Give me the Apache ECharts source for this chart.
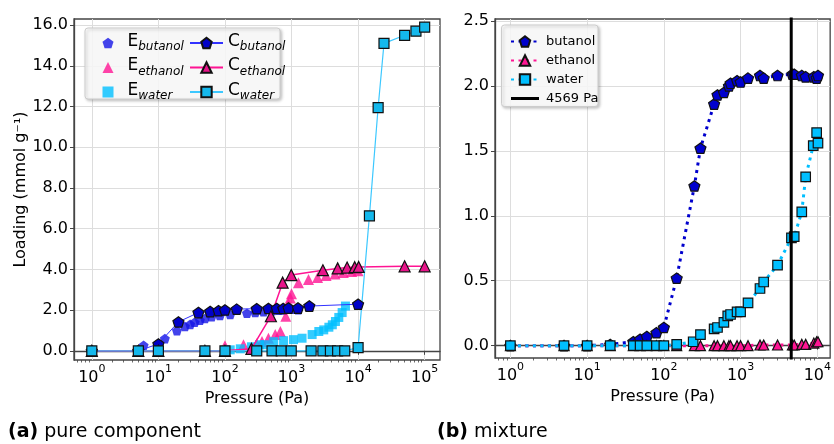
<!DOCTYPE html>
<html><head><meta charset="utf-8">
<script src="https://cdn.jsdelivr.net/npm/echarts@6/dist/echarts.min.js"></script>
<style>html,body{margin:0;padding:0;background:#fff}#c{width:834px;height:444px}</style>
</head><body><div id="c"></div>
<script>
// ---- (a) pure component: [pressure Pa, loading mmol/g]
const eButanol = [[6,0.27],[12.5,0.6],[19,0.99],[25,1.2],[30,1.3],[35,1.4],[42,1.5],[50,1.59],[63,1.67],[84,1.73],[120,1.78],[214,1.85],[285,1.88],[380,1.92],[510,1.97],[640,2.0],[760,2.01],[1020,2.04],[1260,2.02]];
const cButanol = [[1,0],[5,0],[10,0.34],[20,1.42],[40,1.88],[60,1.93],[80,1.97],[100,2.01],[150,2.05],[300,2.07],[450,2.08],[600,2.08],[750,2.08],[900,2.1],[1250,2.1],[1850,2.2],[10000,2.29]];
const eEthanol = [[100,0.25],[190,0.3],[300,0.35],[360,0.46],[450,0.62],[570,0.8],[680,0.95],[820,1.7],[900,2.3],[960,2.6],[1000,2.8],[1270,3.35],[1800,3.5],[2460,3.6],[3300,3.7],[4500,3.78],[6000,3.85],[8000,3.9],[10000,3.93]];
const cEthanol = [[1,0],[5,0],[10,0],[50,0],[100,0],[250,0.1],[490,1.7],[735,3.35],[990,3.72],[2960,3.96],[4930,4.05],[6840,4.09],[8900,4.11],[10200,4.12],[50000,4.15],[100000,4.15]];
const eWater = [[120,0.05],[170,0.1],[250,0.2],[330,0.3],[400,0.3],[540,0.45],[760,0.5],[1070,0.55],[1440,0.62],[2040,0.8],[2570,0.95],[3050,1.03],[3640,1.16],[4100,1.28],[4570,1.44],[5130,1.64],[5760,1.88],[6460,2.2]];
const cWater = [[1,0],[5,0],[10,0],[50,0],[100,0],[300,0],[510,0],[700,0],[990,0],[1970,0],[2960,0],[3840,0],[4930,0],[6300,0],[10000,0.16],[14800,6.63],[20000,11.95],[24500,15.1],[50000,15.5],[74000,15.7],[100000,15.9]];
// ---- (b) mixture
const mixButanol = [[1,0],[5,0],[10,0],[20,0.01],[40,0.03],[49,0.05],[60,0.07],[80,0.1],[100,0.14],[147,0.52],[250,1.23],[300,1.52],[452,1.86],[500,1.93],[606,1.95],[705,2.0],[740,2.02],[900,2.04],[1000,2.03],[1250,2.06],[1790,2.08],[2000,2.06],[3030,2.08],[4740,2.09],[5000,2.09],[6270,2.08],[7050,2.07],[9000,2.07],[9800,2.06],[10200,2.08]];
const mixEthanol = [[1,0],[5,0],[10,0],[20,0],[40,0],[49,0],[60,0],[80,0],[100,0],[147,0],[250,0],[300,0],[452,0],[500,0],[606,0],[705,0],[740,0],[900,0],[1000,0],[1250,0],[1790,0.005],[2000,0.005],[3030,0.005],[4740,0.005],[5000,0.005],[6270,0.01],[7050,0.01],[9000,0.02],[9800,0.03],[10200,0.03]];
const mixWater = [[1,0],[5,0],[10,0],[20,0],[40,0],[49,0],[60,0],[80,0],[100,0],[147,0.01],[241,0.03],[300,0.085],[452,0.13],[500,0.14],[606,0.18],[680,0.23],[740,0.24],[900,0.26],[1000,0.26],[1250,0.33],[1790,0.44],[2000,0.49],[3030,0.62],[4600,0.83],[5000,0.84],[6270,1.03],[7050,1.3],[8850,1.54],[9800,1.64],[10200,1.56]];
const markerPressure = 4569;
const markerLine = [[markerPressure,-1],[markerPressure,3]];
// ---- tick labels
const leftXTicks = [1,10,100,1000,10000,100000];
const rightXTicks = [1,10,100,1000,10000];
const leftYTicks = [0,2,4,6,8,10,12,14,16];
const rightYTicks = [0,0.5,1,1.5,2,2.5];
const minorMantissa = [2,3,4,5,6,7,8,9];
const minorDecades = [0.1,1,10,100,1000,10000,100000];

const FONT = 'DejaVu Sans';
const PENT = 'path://M0,-1L0.951,-0.309L0.588,0.809L-0.588,0.809L-0.951,-0.309Z';
function minorTicks(lo, hi){const out=[];minorDecades.forEach(d=>minorMantissa.forEach(m=>{const v=m*d;if(v>lo&&v<hi)out.push(v);}));return out;}
function logLabel(v){const e=Math.round(Math.log10(v));return '{b|10}{s|'+e+'}';}
const logRich={b:{fontFamily:FONT,fontSize:16,lineHeight:22,verticalAlign:'bottom',color:'#000'},s:{fontFamily:FONT,fontSize:11,lineHeight:12,verticalAlign:'top',color:'#000'}};
const AX='#444';
function majorX(gi,min,max,ticks){return {gridIndex:gi,type:'log',logBase:10,min:min,max:max,position:'bottom',
  name:'Pressure (Pa)',nameLocation:'middle',nameGap:21,nameTextStyle:{fontFamily:FONT,fontSize:16,color:'#000'},
  axisLine:{show:true,lineStyle:{color:AX,width:1.3}},
  axisTick:{show:true,inside:false,length:4,customValues:ticks,lineStyle:{color:AX,width:1}},
  axisLabel:{customValues:ticks,formatter:logLabel,rich:logRich,margin:4},
  splitLine:{show:true,lineStyle:{color:'#dddddd',width:1}}};}
function minorX(gi,min,max){return {gridIndex:gi,type:'log',logBase:10,min:min,max:max,position:'bottom',
  axisLine:{show:false},axisTick:{show:true,inside:false,length:2.5,customValues:minorTicks(min,max),lineStyle:{color:AX,width:0.8}},
  axisLabel:{show:false},splitLine:{show:false}};}
function yAx(gi,min,max,ticks,fmt,name){const o={gridIndex:gi,type:'value',min:min,max:max,
  axisLine:{show:true,lineStyle:{color:AX,width:1.3}},
  axisTick:{show:true,inside:false,length:4,customValues:ticks,lineStyle:{color:AX,width:1}},
  axisLabel:{customValues:ticks,formatter:fmt,fontFamily:FONT,fontSize:16,color:'#000',margin:6},
  splitLine:{show:true,lineStyle:{color:'#dddddd',width:1}}};
  if(name){o.name=name;o.nameLocation='middle';o.nameGap=45;o.nameTextStyle={fontFamily:FONT,fontSize:16,color:'#000'};}
  return o;}

const BLUE_E='#1414e6', BLUE_C='#0000c8', BLUE_L='#3232ff';
const PINK_E='#ff1493', PINK_C='#e8148a';
const CYAN_E='#00bfff', CYAN_C='#14b8ec', CYAN_L='#3cc8ff';
const border={borderColor:'#111',borderWidth:1.2};

function scat(name,data,sym,size,color){return {name,type:'scatter',xAxisIndex:0,yAxisIndex:0,data,symbol:sym,symbolSize:size,symbolKeepAspect:true,itemStyle:{color},z:2};}
function cline(name,data,sym,size,color,lcolor,lw){return {name,type:'line',xAxisIndex:0,yAxisIndex:0,data,symbol:sym,symbolSize:size,symbolKeepAspect:true,showSymbol:true,
  itemStyle:Object.assign({color},border),lineStyle:{color:lcolor,width:lw},z:3};}
function mix(name,data,sym,size,color){return {name,type:'line',xAxisIndex:2,yAxisIndex:1,data,symbol:sym,symbolSize:size,symbolKeepAspect:true,showSymbol:true,
  itemStyle:Object.assign({color},border),lineStyle:{color,width:3,type:[3,4.5]},z:3};}

function legText(padLeft){return {fontFamily:FONT,fontSize:17,color:'#000',lineHeight:20,padding:[0,0,0,padLeft],
  rich:{m:{fontFamily:FONT,fontSize:17,lineHeight:20,verticalAlign:'top',color:'#000'},
        s:{fontFamily:FONT,fontSize:12,fontStyle:'italic',lineHeight:12,verticalAlign:'bottom',color:'#000'}}};}
function legFmt(name){const p=name.split('_');return '{m|'+p[0]+'}{s|'+p[1]+'}';}

const chart = echarts.init(document.getElementById('c'), null, {renderer:'canvas'});
chart.setOption({
  animation:false,
  backgroundColor:'#fff',
  grid:[
    {left:74,top:19,width:366,height:341,show:true,borderColor:AX,borderWidth:1.3,backgroundColor:'transparent'},
    {left:495,top:19,width:338,height:339,show:true,borderColor:AX,borderWidth:1.3,backgroundColor:'transparent'}
  ],
  xAxis:[majorX(0,0.54,1.7e5,leftXTicks),minorX(0,0.54,1.7e5),majorX(1,0.63,14700,rightXTicks),minorX(1,0.63,14700)],
  yAxis:[yAx(0,-0.45,16.3,leftYTicks,v=>v.toFixed(1),'Loading (mmol g\u207B\u00B9)'),yAx(1,-0.095,2.515,rightYTicks,v=>v.toFixed(1))],
  legend:[
    {orient:'vertical',left:97.5,top:28,itemWidth:11,itemHeight:11,itemGap:4.5,z:20,
     data:['E_butanol','E_ethanol','E_water'],formatter:legFmt,textStyle:legText(9)},
    {orient:'vertical',left:184,top:28,itemWidth:33,itemHeight:13,itemGap:4.5,z:20,
     data:['C_butanol','C_ethanol','C_water'],formatter:legFmt,textStyle:legText(0)},
    {orient:'vertical',left:505,top:28.5,itemWidth:28,itemHeight:13,itemGap:3,z:20,
     data:['butanol','ethanol','water',{name:'4569 Pa',icon:'path://M0,0h28v3h-28z'}],
     textStyle:{fontFamily:FONT,fontSize:13,color:'#000',lineHeight:16,padding:[0,0,0,2]}}
  ],
  graphic:[
    {type:'rect',z:10,shape:{x:85,y:28,width:195,height:71,r:3},style:{fill:'rgba(255,255,255,0.85)',stroke:'#cccccc',lineWidth:1,shadowBlur:3,shadowOffsetX:1.5,shadowOffsetY:1.5,shadowColor:'rgba(0,0,0,0.25)'}},
    {type:'rect',z:10,shape:{x:501.5,y:25,width:96.5,height:81.5,r:3},style:{fill:'rgba(255,255,255,0.85)',stroke:'#cccccc',lineWidth:1,shadowBlur:3,shadowOffsetX:1.5,shadowOffsetY:1.5,shadowColor:'rgba(0,0,0,0.25)'}},
    {type:'text',left:8,top:423,style:{text:'{b|(a)} pure component',fontFamily:FONT,fontSize:19,fill:'#000',rich:{b:{fontFamily:FONT,fontSize:19,fontWeight:'bold',fill:'#000'}}}},
    {type:'text',left:437,top:423,style:{text:'{b|(b)} mixture',fontFamily:FONT,fontSize:19,fill:'#000',rich:{b:{fontFamily:FONT,fontSize:19,fontWeight:'bold',fill:'#000'}}}}
  ],
  series:[
    scat('E_butanol',eButanol,PENT,10,BLUE_E),
    cline('C_butanol',cButanol,PENT,11,BLUE_C,BLUE_L,1),
    scat('E_ethanol',eEthanol,'triangle',11,PINK_E),
    cline('C_ethanol',cEthanol,'triangle',11,PINK_C,PINK_E,1.5),
    scat('E_water',eWater,'rect',9,CYAN_E),
    cline('C_water',cWater,'rect',10,CYAN_C,CYAN_L,1.2),
    mix('butanol',mixButanol,PENT,11,'#0000cd'),
    mix('ethanol',mixEthanol,'triangle',10,PINK_E),
    mix('water',mixWater,'rect',9.5,CYAN_E),
    {name:'4569 Pa',type:'line',xAxisIndex:2,yAxisIndex:1,data:markerLine,symbol:'none',showSymbol:false,
     itemStyle:{color:'#000'},lineStyle:{color:'#000',width:3},z:4}
  ]
});
</script>
</body></html>
